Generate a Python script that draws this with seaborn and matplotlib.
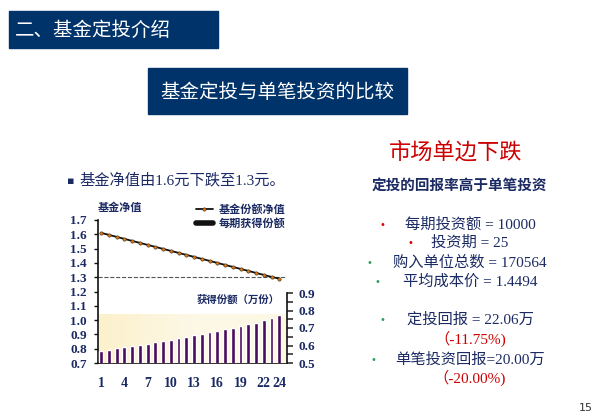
import numpy as np
import pandas as pd
import matplotlib
matplotlib.use("Agg")
import matplotlib.pyplot as plt
import matplotlib.patches as patches
from matplotlib.lines import Line2D
import seaborn as sns

# chart data
periods = list(range(1, 25))
nav = [1.610, 1.596, 1.582, 1.568, 1.554, 1.540, 1.526, 1.512, 1.498, 1.484, 1.470, 1.456,
       1.442, 1.428, 1.414, 1.400, 1.386, 1.372, 1.358, 1.344, 1.330, 1.316, 1.302, 1.290]
shares = [0.570, 0.576, 0.584, 0.590, 0.597, 0.603, 0.610, 0.620, 0.626, 0.633, 0.641, 0.650,
          0.658, 0.666, 0.675, 0.685, 0.694, 0.702, 0.711, 0.721, 0.730, 0.748, 0.759, 0.774]
x_ticks = [1, 4, 7, 10, 13, 16, 19, 22, 24]
nav_ticks = [0.7, 0.8, 0.9, 1.0, 1.1, 1.2, 1.3, 1.4, 1.5, 1.6, 1.7]
share_ticks = [0.5, 0.6, 0.7, 0.8, 0.9]
legend_labels = ["基金份额净值", "每期获得份额"]

# right-hand text block: (text, colour of bullet or None, text colour)
facts = [
    ("每期投资额 = 10000", "#E00000", "navy"),
    ("投资期 = 25", "#E00000", "navy"),
    ("购入单位总数 = 170564", "#2E9E5E", "navy"),
    ("平均成本价 = 1.4494", "#2E9E5E", "navy"),
    ("定投回报 = 22.06万", "#2E9E5E", "navy"),
    ("（-11.75%)", None, "red"),
    ("单笔投资回报=20.00万", "#2E9E5E", "navy"),
    ("（-20.00%)", None, "red"),
]
fact_y = [225, 243, 263, 282, 320, 339, 360, 378]
bullet_x = [382, 410, 369, 377, 382, None, 373, None]

NAVY = "#1B2A63"
RED = "#CC0000"
BOX = "#00336A"
CJK = ["Liberation Serif", "Noto Sans CJK SC", "DejaVu Sans"]

sns.set_theme(style="white")
plt.rcParams["font.family"] = CJK

W, H = 600, 418
fig = plt.figure(figsize=(6, 4.18), dpi=100)


def fx(px):
    return px / W


def fy(py):
    return 1 - py / H


# header boxes
fig.add_artist(patches.Rectangle((fx(9), fy(48)), fx(209), 37 / H, transform=fig.transFigure,
                                 color=BOX, zorder=0))
fig.text(fx(15), fy(30), "二、基金定投介绍", color="white", fontsize=14, va="center", ha="left",
         family=["Noto Sans CJK SC"])
fig.add_artist(patches.Rectangle((fx(148), fy(114)), fx(259), 46 / H, transform=fig.transFigure,
                                 color=BOX, zorder=0))
fig.text(fx(277), fy(92), "基金定投与单笔投资的比较", color="white", fontsize=14, va="center",
         ha="center", family=["Noto Sans CJK SC"])

# left bullet line
fig.text(fx(67), fy(181), "▪", color=NAVY, fontsize=8, va="center", family=["DejaVu Sans"])
fig.text(fx(79), fy(180), "基金净值由1.6元下跌至1.3元。", color=NAVY, fontsize=11, va="center")

# right text
fig.text(fx(456), fy(152), "市场单边下跌", color=RED, fontsize=16, ha="center", va="center",
         family=["Noto Sans CJK SC"])
fig.text(fx(459), fy(185), "定投的回报率高于单笔投资", color=NAVY, fontsize=10.5, ha="center",
         va="center", weight="bold", family=["Noto Sans CJK SC"])
for (txt, bcol, tcol), y, bx in zip(facts, fact_y, bullet_x):
    fig.text(fx(470), fy(y), txt, color=NAVY if tcol == "navy" else RED, fontsize=11,
             ha="center", va="center", weight="medium")
    if bcol is not None:
        fig.text(fx(bx), fy(y), "•", color=bcol, fontsize=7, ha="center", va="center",
                 family=["DejaVu Sans"])

fig.text(fx(586), fy(408), "15", color="#333333", fontsize=8, ha="center", va="center",
         family=["DejaVu Sans"])

# main axes: NAV line
left, right = 98, 287
ax = fig.add_axes([fx(left), fy(363), fx(right - left), (363 - 220) / H])
ax.set_facecolor("none")
sns.lineplot(x=periods, y=nav, ax=ax, color="#111111", lw=1.3, marker="o", markersize=2.4,
             markerfacecolor="#E07A10", markeredgecolor="#3A2A10", markeredgewidth=0.4)
ax.axhline(1.3, color="#555555", ls="--", lw=0.8, zorder=1)
ax.set_xlim(0.6, 25.0)
ax.set_ylim(0.7, 1.7)
ax.set_yticks(nav_ticks)
ax.set_yticklabels([f"{v:.1f}" for v in nav_ticks])
ax.set_xticks(x_ticks)
ax.set_xticklabels([str(v) for v in x_ticks])
for s in ["top", "right"]:
    ax.spines[s].set_visible(False)
for s in ["left", "bottom"]:
    ax.spines[s].set_color("#111111")
    ax.spines[s].set_linewidth(1.2)
ax.tick_params(axis="y", left=True, length=3, width=1, color="#111111", labelsize=9.5,
               labelcolor=NAVY, pad=5)
ax.tick_params(axis="x", bottom=False, labelsize=10, labelcolor=NAVY, pad=4)
for lab in ax.get_xticklabels() + ax.get_yticklabels():
    lab.set_fontweight("bold")
    lab.set_family(["Liberation Serif"])
ax.set_xlabel("")
ax.set_ylabel("")

fig.text(fx(98), fy(207), "基金净值", color=NAVY, fontsize=8, weight="bold", va="center",
         family=["Noto Sans CJK SC"])

# lower axes: shares bought each period
ax2 = fig.add_axes([fx(left), fy(363), fx(right - left), (363 - 293) / H], sharex=ax)
ax2.set_facecolor("none")
grad = np.linspace(0, 1, 200).reshape(1, -1)
cmap = matplotlib.colors.LinearSegmentedColormap.from_list("bg", ["#FCF1CC", "#FDF8E6", "#FEF8E4"])
ax2.imshow(grad, extent=(0.75, 24.9, 0.5, 0.78), aspect="auto", cmap=cmap, zorder=0)
df = pd.DataFrame({"period": periods, "shares": shares})
sns.barplot(data=df, x="period", y="shares", ax=ax2, native_scale=True, width=0.5,
            color="#4A0A5E", saturation=1, zorder=2)
ax2.set_xlim(0.6, 25.0)
ax2.set_ylim(0.5, 0.9)
ax2.yaxis.tick_right()
ax2.set_yticks(share_ticks)
ax2.set_yticklabels([f"{v:.1f}" for v in share_ticks])
ax2.set_yticks([0.55, 0.65, 0.75, 0.85], minor=True)
for s in ["top", "left", "bottom"]:
    ax2.spines[s].set_visible(False)
ax2.spines["right"].set_color("#111111")
ax2.spines["right"].set_linewidth(1.2)
ax2.tick_params(axis="y", which="both", right=True, length=4, width=1.2, color="#333333",
                labelsize=9.5, labelcolor=NAVY, pad=4)
ax2.tick_params(axis="x", bottom=False, labelbottom=False)
for lab in ax2.get_yticklabels():
    lab.set_fontweight("bold")
    lab.set_family(["Liberation Serif"])
ax2.set_xlabel("")
ax2.set_ylabel("")
fig.text(fx(280), fy(300), "获得份额（万份）", color=NAVY, fontsize=7.5, weight="bold",
         ha="right", va="center", family=["Noto Sans CJK SC"])

# legend
handles = [
    Line2D([], [], color="#111111", lw=1.3, marker="o", markersize=2.4,
           markerfacecolor="#E07A10", markeredgecolor="#3A2A10", markeredgewidth=0.4),
    Line2D([], [], color="#111111", lw=4),
]
leg = ax.legend(handles, legend_labels, loc="upper left", bbox_to_anchor=(fx(190), fy(197)),
                bbox_transform=fig.transFigure, frameon=False, handlelength=1.6,
                handletextpad=0.5, labelspacing=0.15, borderpad=0,
                prop={"family": ["Noto Sans CJK SC"], "weight": "bold", "size": 8})
for t in leg.get_texts():
    t.set_color(NAVY)

fig.savefig("out.png", dpi=100)
